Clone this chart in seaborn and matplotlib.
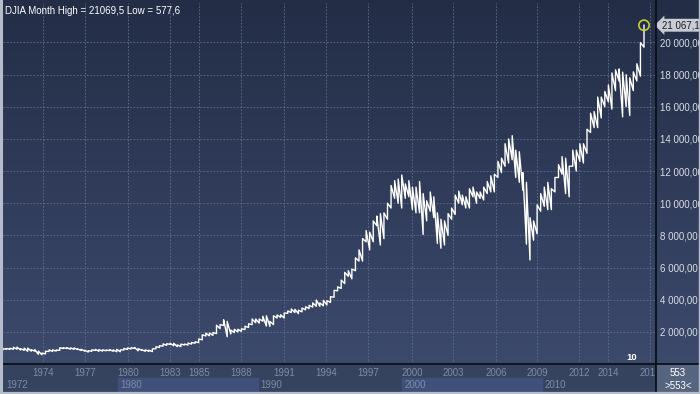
import numpy as np
import pandas as pd
import matplotlib
matplotlib.use('Agg')
import matplotlib.pyplot as plt
import seaborn as sns
from matplotlib.colors import LinearSegmentedColormap
from matplotlib.patches import Rectangle
from matplotlib.lines import Line2D

# DJIA, quarterly low / high (1972 Q1 .. 2017 Q1)
q_low = [
    880, 920, 910, 920,          # 1972
    920, 870, 850, 790,          # 1973
    800, 800, 600, 577.6,        # 1974
    630, 780, 780, 800,          # 1975
    850, 960, 960, 920,          # 1976
    910, 900, 840, 800,          # 1977
    740, 790, 840, 790,          # 1978
    800, 820, 830, 790,          # 1979
    760, 760, 870, 900,          # 1980
    930, 970, 820, 840,          # 1981
    790, 790, 770, 950,          # 1982
    1030, 1110, 1160, 1220,      # 1983
    1130, 1080, 1080, 1180,      # 1984
    1180, 1240, 1290, 1330,      # 1985
    1500, 1740, 1750, 1780,      # 1986
    1890, 2200, 2400, 1700,      # 1987
    1870, 1950, 1990, 2030,      # 1988
    2140, 2270, 2450, 2570,      # 1989
    2540, 2660, 2360, 2340,      # 1990
    2450, 2860, 2900, 2860,      # 1991
    3150, 3200, 3200, 3130,      # 1992
    3240, 3370, 3450, 3540,      # 1993
    3590, 3590, 3620, 3670,      # 1994
    3830, 4150, 4550, 4700,      # 1995
    5000, 5450, 5300, 5800,      # 1996
    6400, 6400, 7600, 7100,      # 1997
    7600, 8600, 7400, 7800,      # 1998
    9000, 9700, 10300, 10000,    # 1999
    9700, 10300, 10400, 9600,    # 2000
    9400, 9400, 8060, 8900,      # 2001
    9500, 9100, 7500, 7200,      # 2002
    7400, 8000, 9000, 9300,      # 2003
    10000, 9900, 9700, 9700,     # 2004
    10400, 10000, 10300, 10200,  # 2005
    10600, 10700, 10700, 11600,  # 2006
    11900, 12300, 12500, 12700,  # 2007
    11600, 11300, 10800, 7450,   # 2008
    6470, 7700, 8100, 9500,      # 2009
    9800, 9600, 9600, 10700,     # 2010
    11600, 11800, 10600, 10400,  # 2011
    12300, 12000, 12600, 12500,  # 2012
    13100, 14400, 14700, 14700,  # 2013
    15300, 16000, 16300, 15850,  # 2014
    17000, 17600, 15370, 16000,  # 2015
    15450, 17000, 17600, 17900,  # 2016
    19700,                       # 2017
]
q_high = [
    950, 970, 975, 1036,
    1052, 960, 990, 990,
    890, 890, 800, 680,
    790, 880, 880, 870,
    1010, 1010, 1015, 1005,
    1000, 940, 920, 860,
    830, 880, 910, 900,
    880, 870, 895, 880,
    910, 880, 970, 1000,
    1010, 1030, 960, 890,
    880, 860, 940, 1070,
    1140, 1250, 1260, 1290,
    1290, 1190, 1240, 1240,
    1300, 1340, 1380, 1560,
    1820, 1920, 1930, 1960,
    2410, 2450, 2750, 2650,
    2110, 2160, 2160, 2190,
    2350, 2500, 2800, 2800,
    2800, 2970, 3000, 2650,
    3000, 3050, 3060, 3170,
    3300, 3420, 3400, 3350,
    3480, 3560, 3650, 3800,
    3980, 3800, 3960, 3940,
    4190, 4580, 4800, 5220,
    5700, 5800, 5900, 6600,
    7100, 7800, 8300, 8200,
    8900, 9200, 9350, 9400,
    10000, 11100, 11400, 11500,
    11750, 11200, 11400, 11000,
    11000, 11350, 10600, 10150,
    10700, 10400, 9400, 9000,
    8900, 9350, 9700, 10500,
    10750, 10500, 10400, 10900,
    11000, 10700, 10700, 11000,
    11350, 11700, 11800, 12600,
    12800, 13700, 14000, 14200,
    13300, 13200, 11900, 11300,
    9100, 8900, 9900, 10600,
    11000, 11300, 10900, 11600,
    12400, 12900, 12800, 12300,
    13300, 13300, 13700, 13700,
    14600, 15600, 15700, 16600,
    16600, 16950, 17350, 18100,
    18300, 18350, 18150, 17990,
    17800, 18170, 18670, 19990,
    21069.5,
]
last_close = 21067.1
bar_count = 553

year_labels = ['1974', '1977', '1980', '1983', '1985', '1988', '1991', '1994',
               '1997', '2000', '2003', '2006', '2009', '2012', '2014', '2017']
year_pos = [1974.95, 1977.90, 1980.91, 1983.86, 1985.90, 1988.84, 1991.86, 1994.81,
            1997.76, 2000.84, 2003.72, 2006.74, 2009.62, 2012.56, 2014.60, 2017.55]
decade_labels = ['1972', '1980', '1990', '2000', '2010']
decade_pos = [1972.20, 1980.20, 1990.05, 2000.15, 2010.0]
y_ticks = [2000, 4000, 6000, 8000, 10000, 12000, 14000, 16000, 18000, 20000]

plt.rcParams['font.family'] = ['Liberation Sans', 'DejaVu Sans']

t = 1972 + (np.arange(len(q_low)) + 0.5) / 4
rows = []
for ti, lo, hi in zip(t, q_low, q_high):
    rows.append((ti, lo))
    rows.append((ti, hi))
df = pd.DataFrame(rows, columns=['t', 'value'])

def ru(v, d):
    return f"{v:,.{d}f}".replace(',', ' ').replace('.', ',')

W, H = 700, 394
fig = plt.figure(figsize=(7, 3.94), dpi=100)

# background gradient
bg = fig.add_axes([0, 0, 1, 1])
cmap = LinearSegmentedColormap.from_list('bg', ['#232d46', '#3e4c6f'])
bg.imshow(np.linspace(0, 1, 256).reshape(-1, 1), aspect='auto', cmap=cmap,
          extent=[0, 1, 0, 1], origin='upper')
bg.axis('off')

xmin = 1972.143
xmax = xmin + 653 / 14.25

ax = fig.add_axes([3 / W, 30 / H, 653 / W, 361 / H])
ax.set_facecolor('none')
sns.lineplot(data=df, x='t', y='value', sort=False, estimator=None,
             color='white', lw=1.0, ax=ax)
ax.scatter([t[-1]], [last_close], s=55, facecolors='none',
           edgecolors='#c6cf3a', linewidths=1.2, zorder=5)
ax.set_xlim(xmin, xmax)
ax.set_ylim(0, 22450)
ax.set_xlabel('')
ax.set_ylabel('')
ax.set_xticks(year_pos)
ax.set_yticks(y_ticks)
ax.set_yticklabels([ru(v, 2) for v in y_ticks])
ax.yaxis.tick_right()
ax.tick_params(axis='x', length=0, labelbottom=False)
ax.tick_params(axis='y', length=0, pad=3, labelsize=7, labelcolor='#d8dde6')
ax.grid(True, color='#5f6f96', ls=(0, (2, 2)), lw=0.6)
for s in ax.spines.values():
    s.set_visible(False)

title = f"DJIA Month High = {max(q_high):.1f} Low = {min(q_low):.1f}".replace('.', ',')
ax.text(0.003, 0.993, title, transform=ax.transAxes, ha='left', va='top',
        fontsize=7, color='white')
ax.annotate(ru(last_close, 1), xy=(1.0, last_close), xycoords=('axes fraction', 'data'),
            xytext=(4, 0), textcoords='offset points', ha='left', va='center',
            fontsize=7, color='#1e1e1e', annotation_clip=False,
            bbox=dict(boxstyle='larrow,pad=0.15', fc='#c8cdd5', ec='none'))
fig.text(632 / W, 1 - 358 / H, '10', ha='center', va='center', fontsize=6.8,
         fontweight='bold', color='white')

# bottom time band
band = fig.add_axes([3 / W, 0, 653 / W, 30 / H])
band.set_xlim(xmin, xmax)
band.set_ylim(0, 1)
band.axis('off')
band.add_patch(Rectangle((xmin, 0), xmax - xmin, 1, color='#36435f', zorder=0))
for i in (1, 3):
    end = decade_pos[i + 1] if i + 1 < len(decade_pos) else xmax
    band.add_patch(Rectangle((decade_pos[i], 0.06), end - decade_pos[i], 0.48,
                             color='#41507a', zorder=1))
for p, lab in zip(year_pos, year_labels):
    band.text(p, 0.7, lab, ha='center', va='center', fontsize=7, color='#7d8ba6')
for p, lab in zip(decade_pos, decade_labels):
    band.text(p + 0.15, 0.3, lab, ha='left', va='center', fontsize=7, color='#7d8ba6')

# bottom-right counter box
fig.add_artist(Rectangle((656 / W, 0), 44 / W, 30 / H, transform=fig.transFigure,
                         color='#56657f', zorder=3))
fig.text(678 / W, 21 / H, str(bar_count), ha='center', va='center', fontsize=7,
         color='white', zorder=4)
fig.text(678 / W, 8 / H, '>' + str(bar_count) + '<', ha='center', va='center',
         fontsize=7, color='white', zorder=4)

# separators and frame
fig.add_artist(Line2D([656 / W, 656 / W], [0, 1], transform=fig.transFigure,
                      color='#0c0f18', lw=1.3, zorder=6))
fig.add_artist(Line2D([0, 1], [30 / H, 30 / H], transform=fig.transFigure,
                      color='#0c0f18', lw=1.3, zorder=6))
fig.add_artist(Line2D([0.0015, 0.0015], [0, 1], transform=fig.transFigure,
                      color='#b5bdca', lw=2.2, zorder=7))
fig.add_artist(Line2D([0, 1], [0.002, 0.002], transform=fig.transFigure,
                      color='#b5bdca', lw=1.6, zorder=7))
fig.add_artist(Line2D([0.999, 0.999], [0, 1], transform=fig.transFigure,
                      color='#b5bdca', lw=1.0, zorder=7))

fig.savefig('out.png', dpi=100)
